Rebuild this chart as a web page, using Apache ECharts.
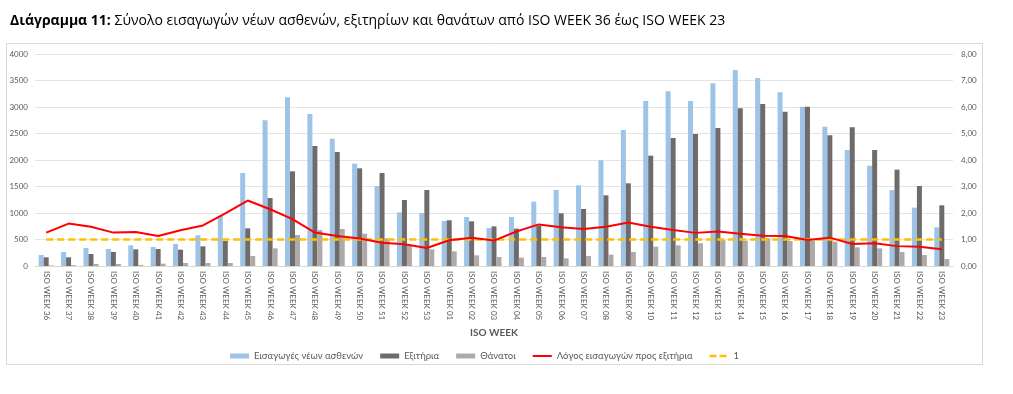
<!DOCTYPE html>
<html>
<head>
<meta charset="utf-8">
<script src="https://cdn.jsdelivr.net/npm/echarts@6/dist/echarts.min.js"></script>
<style>
html,body{margin:0;padding:0;background:#fff;}
#chart{width:1013px;height:394px;}
</style>
</head>
<body>
<div id="chart"></div>
<script>
const categories = ['ISO WEEK 36','ISO WEEK 37','ISO WEEK 38','ISO WEEK 39','ISO WEEK 40','ISO WEEK 41','ISO WEEK 42','ISO WEEK 43','ISO WEEK 44','ISO WEEK 45','ISO WEEK 46','ISO WEEK 47','ISO WEEK 48','ISO WEEK 49','ISO WEEK 50','ISO WEEK 51','ISO WEEK 52','ISO WEEK 53','ISO WEEK 01','ISO WEEK 02','ISO WEEK 03','ISO WEEK 04','ISO WEEK 05','ISO WEEK 06','ISO WEEK 07','ISO WEEK 08','ISO WEEK 09','ISO WEEK 10','ISO WEEK 11','ISO WEEK 12','ISO WEEK 13','ISO WEEK 14','ISO WEEK 15','ISO WEEK 16','ISO WEEK 17','ISO WEEK 18','ISO WEEK 19','ISO WEEK 20','ISO WEEK 21','ISO WEEK 22','ISO WEEK 23'];
const admissions = [208,264,340,321,390,358,415,579,950,1755,2748,3182,2868,2403,1931,1509,1013,1000,849,925,717,925,1214,1434,1522,1994,2566,3113,3296,3113,3447,3698,3547,3277,3006,2629,2189,1893,1434,1101,730];
const discharges = [164,164,226,264,314,321,308,371,472,711,1283,1786,2264,2151,1843,1755,1245,1434,862,843,748,704,761,994,1075,1333,1560,2082,2415,2491,2604,2975,3057,2912,3006,2465,2616,2189,1818,1509,1145];
const deaths = [10,15,38,38,20,44,57,57,57,189,333,585,679,698,610,522,410,314,277,201,170,157,170,145,189,214,264,365,390,428,491,478,522,472,478,459,352,333,264,208,132];
const ratio = [1.26,1.60,1.48,1.26,1.28,1.13,1.35,1.53,1.99,2.47,2.14,1.77,1.26,1.13,1.04,0.88,0.82,0.68,0.97,1.07,0.96,1.30,1.57,1.46,1.40,1.48,1.64,1.48,1.36,1.25,1.30,1.22,1.14,1.13,0.98,1.07,0.83,0.86,0.75,0.73,0.63];
const oneLine = categories.map(() => 1);
const leftTicks = {min:0, max:4000, interval:500};
const rightTicks = {min:0, max:8, interval:1};
const seriesNames = ['Εισαγωγές νέων ασθενών','Εξιτήρια','Θάνατοι','Λόγος εισαγωγών προς εξιτήρια','1'];

const chart = echarts.init(document.getElementById('chart'), null, {renderer:'canvas'});
const labelFont = 'Lato, "Open Sans", sans-serif';
const titleFont = '"Open Sans", "Noto Sans", sans-serif';
const solidIcon = 'path://M0,0 L0,0.01 M0,1.6 L19,1.6 L19,3.4 L0,3.4 Z M19,5 L19,4.99';
const dashIcon = 'path://M0,0 L0,0.01 M0,1.3 L7,1.3 L7,3.7 L0,3.7 Z M10,1.3 L17,1.3 L17,3.7 L10,3.7 Z M19,5 L19,4.99';
chart.setOption({
  animation:false,
  backgroundColor:'#fff',
  title:{
    left:5, top:9,
    text:'{b|Διάγραμμα 11:}{n| Σύνολο εισαγωγών νέων ασθενών, εξιτηρίων και θανάτων από ISO WEEK 36 έως ISO WEEK 23}',
    textStyle:{
      fontWeight:'normal',
      rich:{
        b:{fontFamily:titleFont, fontWeight:'bold', fontSize:14, color:'#000'},
        n:{fontFamily:titleFont, fontWeight:'normal', fontSize:14, color:'#000'}
      }
    }
  },
  graphic:[{
    type:'rect', shape:{x:6.5, y:43.5, width:976, height:321},
    style:{fill:'none', stroke:'#d9d9d9', lineWidth:1}, silent:true, z:-1
  }],
  legend:{
    top:346, left:225,
    itemWidth:19, itemHeight:5, itemGap:17,
    textStyle:{fontFamily:labelFont, fontSize:9.5, color:'#595959'},
    data:[
      {name:seriesNames[0], icon:'rect'},
      {name:seriesNames[1], icon:'rect'},
      {name:seriesNames[2], icon:'rect'},
      {name:seriesNames[3], icon:solidIcon},
      {name:seriesNames[4], icon:dashIcon}
    ]
  },
  grid:{left:35, right:60, top:54, bottom:128, containLabel:false},
  xAxis:{
    type:'category', data:categories,
    name:'ISO WEEK', nameLocation:'middle', nameGap:57,
    nameTextStyle:{fontFamily:labelFont, fontWeight:'bold', fontSize:10, color:'#595959'},
    axisLine:{lineStyle:{color:'#d9d9d9'}},
    axisTick:{show:false},
    axisLabel:{interval:0, rotate:-90, fontFamily:labelFont, fontSize:8, color:'#595959', margin:5}
  },
  yAxis:[{
    type:'value', min:leftTicks.min, max:leftTicks.max, interval:leftTicks.interval,
    axisLine:{show:false}, axisTick:{show:false},
    axisLabel:{fontFamily:labelFont, fontSize:8, color:'#595959', margin:7, formatter:v => String(v)},
    splitLine:{lineStyle:{color:'#e4e4e4'}}
  },{
    type:'value', min:rightTicks.min, max:rightTicks.max, interval:rightTicks.interval,
    axisLine:{show:false}, axisTick:{show:false},
    axisLabel:{fontFamily:labelFont, fontSize:8, color:'#595959', margin:8,
      formatter:v => v.toFixed(2).replace('.',',')},
    splitLine:{show:false}
  }],
  series:[
    {name:seriesNames[0], type:'bar', data:admissions, barWidth:5, barGap:'0%', itemStyle:{color:'#9dc3e6'}},
    {name:seriesNames[1], type:'bar', data:discharges, barWidth:5, barGap:'0%', itemStyle:{color:'#6f6b6b'}},
    {name:seriesNames[2], type:'bar', data:deaths, barWidth:5, barGap:'0%', itemStyle:{color:'#aeaaaa'}},
    {name:seriesNames[3], type:'line', yAxisIndex:1, data:ratio, symbol:'none', lineStyle:{color:'#ff0000', width:2}, itemStyle:{color:'#ff0000'}, z:5},
    {name:seriesNames[4], type:'line', yAxisIndex:1, data:oneLine, symbol:'none', lineStyle:{color:'#ffc000', width:2.5, type:[7,4]}, itemStyle:{color:'#ffc000'}, z:4}
  ]
});
</script>
</body>
</html>
